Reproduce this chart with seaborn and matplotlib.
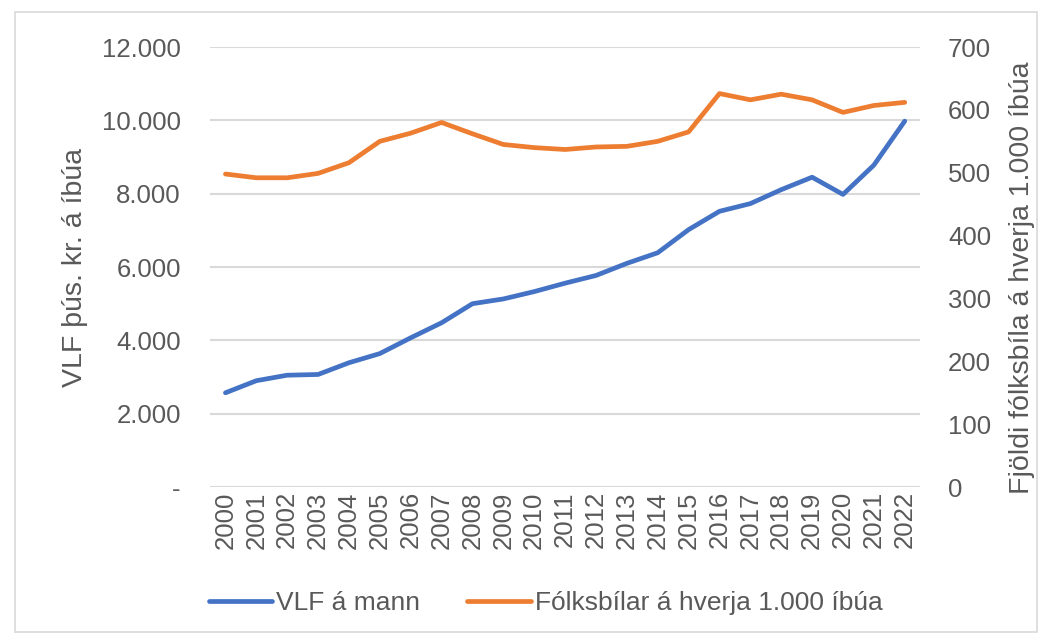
import pandas as pd
import matplotlib.pyplot as plt
import seaborn as sns
from matplotlib.patches import Rectangle
from matplotlib.ticker import FuncFormatter

# Data
years = list(range(2000, 2023))
vlf_per_person = [2570, 2900, 3050, 3070, 3390, 3640, 4070, 4480, 5000, 5130,
                  5330, 5560, 5770, 6100, 6390, 7020, 7520, 7730, 8110, 8450,
                  7980, 8780, 9980]
cars_per_1000 = [498, 492, 492, 499, 516, 550, 563, 580, 562, 545,
                 540, 537, 541, 542, 550, 565, 626, 616, 625, 616,
                 596, 607, 612]

df = pd.DataFrame({'year': years, 'vlf': vlf_per_person, 'cars': cars_per_1000})

sns.set_style('white')
plt.rcParams['font.family'] = ['Liberation Sans', 'DejaVu Sans']

blue = '#4472C4'
orange = '#ED7D31'
gray_txt = '#595959'
grid_col = '#D9D9D9'

fig = plt.figure(figsize=(10.49, 6.40), dpi=100)
ax = fig.add_axes([0.2002, 0.239, 0.677, 0.6875])
ax2 = ax.twinx()

# outer frame
fig.patches.append(Rectangle((0.014, 0.012), 0.975, 0.97, transform=fig.transFigure,
                             fill=False, edgecolor='#D9D9D9', linewidth=1.2))

for y in range(0, 12001, 2000):
    ax.axhline(y, color=grid_col, linewidth=1.5, zorder=0)

sns.lineplot(data=df, x='year', y='vlf', ax=ax, color=blue, linewidth=3.4,
             label='VLF á mann', legend=False)
sns.lineplot(data=df, x='year', y='cars', ax=ax2, color=orange, linewidth=3.4,
             label='Fólksbílar á hverja 1.000 íbúa', legend=False)

ax.set_xlim(1999.5, 2022.5)
ax.set_ylim(0, 12000)
ax2.set_ylim(0, 700)
ax.set_xticks(years)
ax.set_xticklabels([str(y) for y in years], rotation=90)
ax.set_yticks(range(0, 12001, 2000))
ax.yaxis.set_major_formatter(FuncFormatter(
    lambda v, p: '-' if v == 0 else f'{int(v):,}'.replace(',', '.')))
ax2.set_yticks(range(0, 701, 100))

for a in (ax, ax2):
    for s in a.spines.values():
        s.set_visible(False)
    a.tick_params(length=0, labelsize=18.5, colors=gray_txt)
ax.tick_params(axis='y', pad=21)
ax.tick_params(axis='x', pad=3)
ax2.tick_params(axis='y', pad=20)

ax.set_xlabel('')
ax.set_ylabel('VLF þús. kr. á íbúa', fontsize=20.5, color=gray_txt, labelpad=10)
ax2.set_ylabel('Fjöldi fólksbíla á hverja 1.000 íbúa', fontsize=20.5, color=gray_txt)
ax2.yaxis.set_label_coords(1.125, 0.475)

h1, l1 = ax.get_legend_handles_labels()
h2, l2 = ax2.get_legend_handles_labels()
fig.legend(h1 + h2, l1 + l2, loc='center', bbox_to_anchor=(0.52, 0.058), ncol=2,
           frameon=False, fontsize=19, handlelength=2.4, handletextpad=0.15,
           columnspacing=1.8, labelcolor=gray_txt)

fig.savefig('out.png', dpi=100)
